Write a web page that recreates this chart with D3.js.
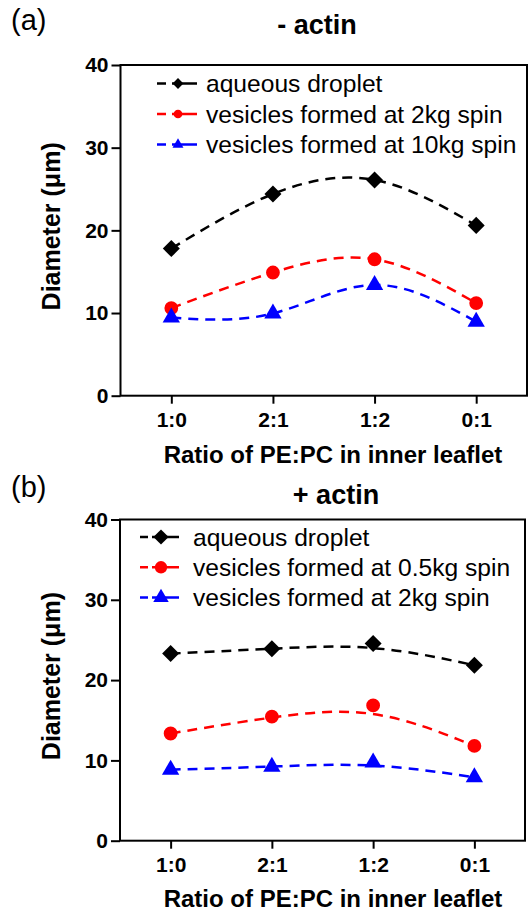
<!DOCTYPE html>
<html>
<head>
<meta charset="utf-8">
<script src="https://cdn.jsdelivr.net/npm/d3@7"></script>
<style>
  body { margin: 0; background: #fff; }
  svg { font-family: "Liberation Sans", Arial, sans-serif; }
</style>
</head>
<body>
<svg width="532" height="912"></svg>
<script>
// data
var categories = ["1:0", "2:1", "1:2", "0:1"];
var yTicks = [0, 10, 20, 30, 40];

var dropletA = [17.8, 24.4, 26.1, 20.6];
var spin2kgA = [10.6, 14.9, 16.5, 11.2];
var spin10kgA = [9.45, 9.95, 13.4, 8.95];

var dropletB = [23.3, 23.9, 24.55, 21.85];
var spin05kgB = [13.35, 15.45, 16.85, 11.8];
var spin2kgB = [8.85, 9.2, 9.75, 7.9];

var svg = d3.select("svg");

// square turned 45 degrees, as the figure's diamond is as wide as tall
function markerTransform(shape) {
  return shape === d3.symbolSquare ? " rotate(45)" : "";
}

function drawPanel(p) {
  var x = d3.scalePoint().domain(categories).range([p.left, p.right]).padding(0.5);
  var y = d3.scaleLinear().domain([0, 40]).range([p.bottom, p.top]);

  var g = svg.append("g");

  // frame
  g.append("rect")
    .attr("x", p.left).attr("y", p.top)
    .attr("width", p.right - p.left).attr("height", p.bottom - p.top)
    .attr("fill", "none").attr("stroke", "#000").attr("stroke-width", 2);

  var yAxis = g.append("g")
    .attr("transform", "translate(" + p.left + ",0)")
    .call(d3.axisLeft(y).tickValues(yTicks).tickSize(9).tickPadding(3));
  var xAxis = g.append("g")
    .attr("transform", "translate(0," + p.bottom + ")")
    .call(d3.axisBottom(x).tickSize(8).tickPadding(8));
  [yAxis, xAxis].forEach(function(a) {
    a.select(".domain").remove();
    a.selectAll("line").attr("stroke-width", 2);
    a.selectAll("text")
      .attr("font-family", "'Liberation Sans', Arial, sans-serif")
      .attr("font-size", "21px").attr("font-weight", "bold").attr("fill", "#000");
  });
  xAxis.selectAll("text").attr("dy", "0.75em");

  // titles
  g.append("text").attr("x", p.titleX).attr("y", p.titleY)
    .attr("text-anchor", "middle").attr("font-size", "27px").attr("font-weight", "bold")
    .text(p.title);
  g.append("text").attr("x", 11).attr("y", p.labelY)
    .attr("font-size", "29px").text(p.label);
  g.append("text").attr("x", 333).attr("y", p.xTitleY)
    .attr("text-anchor", "middle").attr("font-size", "24px").attr("font-weight", "bold")
    .text("Ratio of PE:PC in inner leaflet");
  g.append("text")
    .attr("transform", "translate(60," + ((p.top + p.bottom) / 2 - 4) + ") rotate(-90)")
    .attr("text-anchor", "middle").attr("font-size", "25px").attr("font-weight", "bold")
    .text("Diameter (\u03bcm)");

  var line = d3.line()
    .x(function(d, i) { return x(categories[i]); })
    .y(function(d) { return y(d); })
    .curve(p.curve);

  p.series.forEach(function(s, k) {
    g.append("path")
      .attr("d", line(s.values))
      .attr("fill", "none").attr("stroke", s.color)
      .attr("stroke-width", 2.5).attr("stroke-dasharray", "10,7");

    var sym = d3.symbol().type(s.shape).size(s.size);
    g.selectAll(".pt" + k)
      .data(s.values).enter()
      .append("path")
      .attr("class", "pt" + k)
      .attr("d", sym)
      .attr("transform", function(d, i) {
        return "translate(" + x(categories[i]) + "," + y(d) + ")" + markerTransform(s.shape);
      })
      .attr("fill", s.color);

    // legend row
    var ly = p.legendY + k * p.legendStep;
    g.append("line")
      .attr("x1", p.legendX).attr("x2", p.legendX + 40)
      .attr("y1", ly).attr("y2", ly)
      .attr("stroke", s.color).attr("stroke-width", 2.5)
      .attr("stroke-dasharray", p.legendDash);
    g.append("path")
      .attr("d", d3.symbol().type(s.shape).size(s.size * p.legendScale))
      .attr("transform", "translate(" + (p.legendX + 21) + "," + ly + ")" + markerTransform(s.shape))
      .attr("fill", s.color);
    g.append("text")
      .attr("x", p.legendTextX).attr("y", ly).attr("dy", "0.35em")
      .attr("font-size", "24.6px").text(s.name);
  });
}

drawPanel({
  left: 120.5, right: 527, top: 65, bottom: 395.7,
  title: "- actin", titleX: 317, titleY: 34,
  label: "(a)", labelY: 30, xTitleY: 463,
  curve: d3.curveNatural,
  legendX: 157, legendTextX: 206, legendY: 83.5, legendStep: 30.5,
  legendScale: 0.4, legendDash: "9,6,25",
  series: [
    { name: "aqueous droplet", values: dropletA, color: "#000", shape: d3.symbolSquare, size: 145 },
    { name: "vesicles formed at 2kg spin", values: spin2kgA, color: "#ff0000", shape: d3.symbolCircle, size: 150 },
    { name: "vesicles formed at 10kg spin", values: spin10kgA, color: "#0000ff", shape: d3.symbolTriangle, size: 130 }
  ]
});

drawPanel({
  left: 120, right: 525, top: 519.5, bottom: 840.7,
  title: "+ actin", titleX: 336, titleY: 504,
  label: "(b)", labelY: 497, xTitleY: 907,
  curve: d3.curveBasis,
  legendX: 140, legendTextX: 193, legendY: 537, legendStep: 30.3,
  legendScale: 0.8, legendDash: "8,4,27",
  series: [
    { name: "aqueous droplet", values: dropletB, color: "#000", shape: d3.symbolSquare, size: 145 },
    { name: "vesicles formed at 0.5kg spin", values: spin05kgB, color: "#ff0000", shape: d3.symbolCircle, size: 150 },
    { name: "vesicles formed at 2kg spin", values: spin2kgB, color: "#0000ff", shape: d3.symbolTriangle, size: 130 }
  ]
});
</script>
</body>
</html>
